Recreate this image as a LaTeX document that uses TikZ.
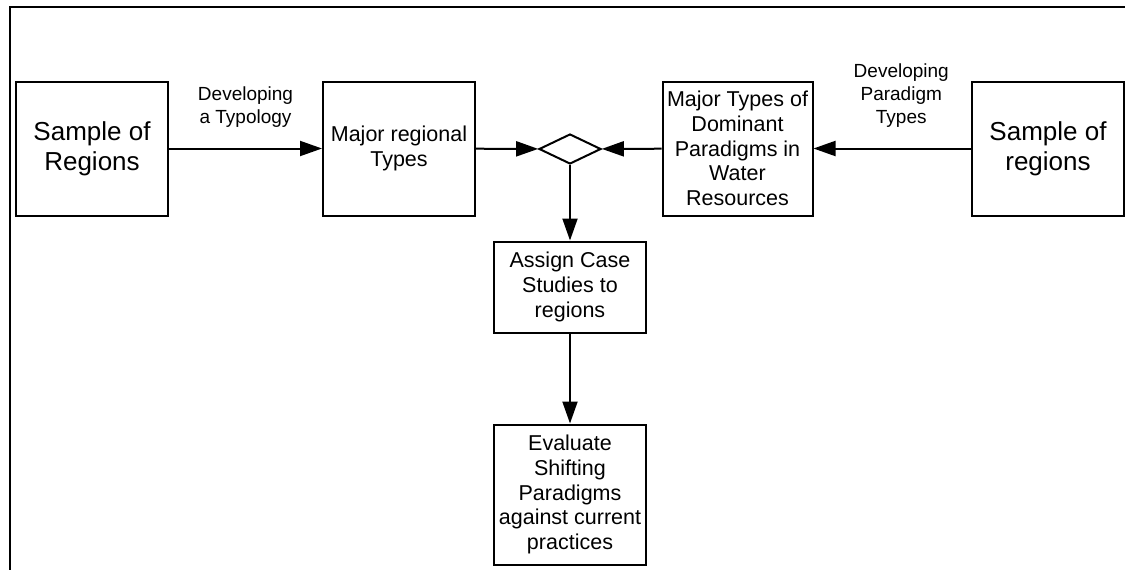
\documentclass[tikz,border=0pt]{standalone}
\usepackage{fontspec}
\setmainfont{Liberation Sans}
\usetikzlibrary{shapes.geometric,arrows.meta}

\begin{document}
\begin{tikzpicture}[x=1pt,y=-1pt,line width=2pt,
        box/.style={draw,rectangle,align=center,inner sep=2pt,minimum width=152pt,font=\fontsize{21.5}{24.7}\selectfont},
        big/.style={box,minimum height=134pt,font=\fontsize{26}{30}\selectfont},
        mergebox/.style={draw,diamond,minimum width=62pt,minimum height=30pt,inner sep=0pt},
        flow/.style={-{Triangle[length=22pt,width=15pt]}},
        lbl/.style={align=center,inner sep=0pt,font=\fontsize{19}{23}\selectfont}]

    \useasboundingbox (0,0) rectangle (1125,570);
    \draw (10,570) -- (10,7) -- (1125,7); % frame

    \node[big] (sampleA) at (92,148.5) {Sample of\\Regions};
    \node[box,minimum height=134pt] (regtypes) at (399,148.5) {Major regional\\Types};
    \node[mergebox] (merge) at (570,149) {};
    \node[box,minimum height=134pt,minimum width=150pt] (paratypes) at (737.5,148.5)
        {Major Types of\\Dominant\\Paradigms in\\Water\\Resources};
    \node[big] (sampleB) at (1048,148.5) {Sample of\\regions};
    \node[box,minimum height=91pt] (assign) at (570,287) {Assign Case\\Studies to\\regions};
    \node[box,minimum height=140pt] (evaluate) at (570,494.5)
        {Evaluate\\Shifting\\Paradigms\\against current\\practices};

    % top row
    \draw[flow] (sampleA) -- node[lbl,above=20pt] {Developing\\a Typology} (regtypes);
    \draw[flow] (regtypes) -- (merge);
    \draw[flow] (paratypes) -- (merge);
    \draw[flow] (sampleB) -- node[lbl,above=20pt,xshift=9pt] {Developing\\Paradigm\\Types} (paratypes);
    % down the middle
    \draw[flow] (merge) -- (assign);
    \draw[flow] (assign) -- (evaluate);
\end{tikzpicture}
\end{document}
